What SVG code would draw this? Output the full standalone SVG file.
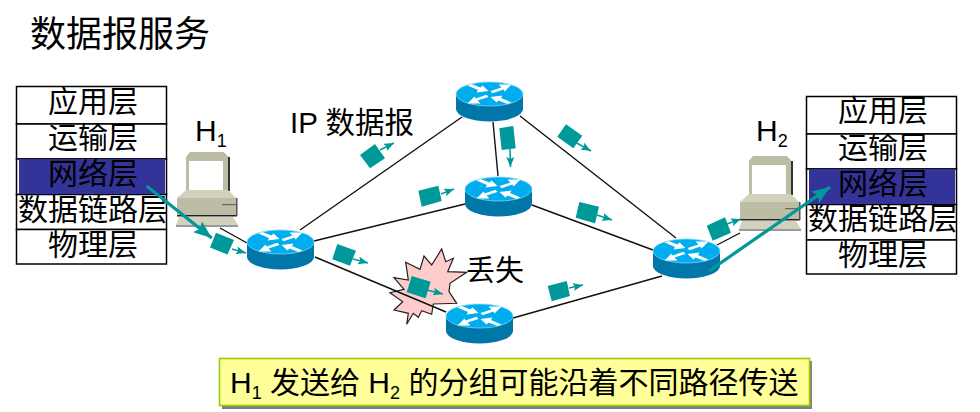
<svg xmlns="http://www.w3.org/2000/svg" xmlns:xlink="http://www.w3.org/1999/xlink" width="980" height="412" viewBox="0 0 980 412">
<style>
text{font-family:"Liberation Sans","Noto Sans CJK SC",sans-serif;font-size:30px;fill:#000}
.c{text-anchor:middle}
.sub{font-size:18px}
.cell{fill:#fff;stroke:#000;stroke-width:1.500}
.hl{fill:#333399}
.link{stroke:#111;stroke-width:1.400;fill:none}
.pk{fill:#009999}
.pa{stroke:#009999;stroke-width:1.500;fill:none;marker-end:url(#sm)}
.big{stroke:#009999;stroke-width:3.200;fill:none;marker-end:url(#bg)}
.rs{fill:#0077A8}
.rt{fill:#00AEEF;stroke:#7FD4F5;stroke-width:.8}
.ra{fill:#fff}
.pc1{fill:#BDBDA5}
.pc2{fill:#D2D2BC}
</style>
<defs>
<marker id="sm" markerUnits="userSpaceOnUse" markerWidth="12" markerHeight="8" refX="10" refY="4" orient="auto"><path d="M0 0L10 4L0 8L2 4Z" fill="#009999"/></marker>
<marker id="bg" markerUnits="userSpaceOnUse" markerWidth="20" markerHeight="14" refX="18" refY="7" orient="auto"><path d="M0 0L18 7L0 14L3 7Z" fill="#009999"/></marker>
<g id="rt">
<path class="rs" d="M-33.500 0V15A33.500 12.500 0 0 0 33.500 15V0Z"/>
<ellipse class="rt" cx="0" cy="0" rx="33.500" ry="12"/>
<path class="ra" d="M-22-8.500L-18-10L-9-6.500L-7-8.500L-1-3L-13-1.500L-11.500-4ZM1-3L12-6.500L9-9.500L22-9.500L15-2.500L14-4.500L3-.8ZM-1 3L-12 6.500L-9 9.500L-22 9.500L-15 2.500L-14 4.500L-3 .8ZM22 8.500L18 10L9 6.500L7 8.500L1 3L13 1.500L11.500 4Z"/>
</g>
<g id="pc">
<path d="M5 0H38L43 5V39L45 39V5H43Z" fill="#333"/>
<path class="pc1" d="M5 0H38L43 5V39H1V5Z"/>
<rect x="4" y="9" width="34" height="29" fill="#fff"/>
<path class="pc2" d="M1 38H43L51 46H-8Z"/>
<path class="pc1" d="M-8 46H51V63H-8Z"/>
<rect x="-8" y="63" width="60" height="1.500" fill="#222"/>
<rect x="51" y="46" width="1.500" height="18" fill="#555"/>
<rect x="37" y="52" width="14" height="1.200" fill="#666"/>
<path class="pc2" d="M-6 65H48L53 73H-9Z"/>
<rect x="-9" y="73" width="62" height="2" fill="#999"/>
</g>
</defs>
<g id="title"><text x="30" y="47" style="font-size:36px">数据报服务</text></g>
<g id="loss">
<polygon points="441.700,249 445.700,261.700 453.300,258.300 447.700,271.700 466.700,272.300 450,283.300 449,291.700 456.700,303.300 433.300,304 431.700,314.300 421.700,310.700 418.300,317.300 413.300,313.300 406.700,324.300 408.300,313.300 394,310 402.700,301.700 390,292.700 404,289.300 394,277.700 408.300,280 405.700,262.300 420,269.300 424,256 431.700,265" fill="#FFCCCC" stroke="#222" stroke-width="1.200"/>
<text x="466" y="281" style="font-size:29px">丢失</text>
</g>
<g id="connectors">
<path class="link" d="M300 230L462 117M314 241L465 204M315 257L446 312M493 122L498 176M520 116L676 238M532 205L653 250M513 318L662 276M717 245L740 233M220 228L247 243"/>
</g>
<g id="h1"><use xlink:href="#pc" href="#pc" x="185" y="152"/><text x="195" y="141">H<tspan class="sub" dy="6">1</tspan></text></g>
<g id="h2"><use xlink:href="#pc" href="#pc" x="748" y="156"/><text x="756" y="141">H<tspan class="sub" dy="6">2</tspan></text></g>
<g id="r1"><use xlink:href="#rt" href="#rt" x="280.500" y="242"/></g>
<g id="r2"><use xlink:href="#rt" href="#rt" x="489.500" y="94"/></g>
<g id="r3"><use xlink:href="#rt" href="#rt" x="498.500" y="189"/></g>
<g id="r4"><use xlink:href="#rt" href="#rt" x="479.500" y="316"/></g>
<g id="r5"><use xlink:href="#rt" href="#rt" x="686.500" y="251"/></g>
<g id="stack1">
<rect class="cell" x="16.500" y="86.500" width="150" height="37.500"/>
<rect class="cell" x="16.500" y="124" width="150" height="35"/>
<rect class="cell" x="16.500" y="159" width="150" height="35.500"/>
<rect class="cell" x="16.500" y="194.500" width="150" height="35"/>
<rect class="cell" x="16.500" y="229.500" width="150" height="34.500"/>
<rect class="hl" x="19" y="159" width="146" height="35"/>
<text class="c" x="93" y="112">应用层</text>
<text class="c" x="93" y="148">运输层</text>
<text class="c" x="93" y="184">网络层</text>
<text class="c" x="93" y="220">数据链路层</text>
<text class="c" x="93" y="255">物理层</text>
</g>
<g id="stack2">
<rect class="cell" x="806.500" y="96.500" width="150" height="37.500"/>
<rect class="cell" x="806.500" y="134" width="150" height="35"/>
<rect class="cell" x="806.500" y="169" width="150" height="35.500"/>
<rect class="cell" x="806.500" y="204.500" width="150" height="35.500"/>
<rect class="cell" x="806.500" y="240" width="150" height="34"/>
<rect class="hl" x="809" y="169" width="146" height="35"/>
<text class="c" x="883" y="121">应用层</text>
<text class="c" x="883" y="158">运输层</text>
<text class="c" x="883" y="194">网络层</text>
<text class="c" x="883" y="229">数据链路层</text>
<text class="c" x="883" y="265">物理层</text>
</g>
<g id="ip-label"><text x="290" y="133" style="font-size:29.500px">IP 数据报</text></g>
<g id="packets">
<polygon class="pk" points="216,232.700 234,240 227.500,254.500 210,247.500"/><path class="pa" d="M232 249L246 253"/>
<polygon class="pk" points="360,155 375,144 385,158.300 370,168.300"/><path class="pa" d="M380 150L394 143"/>
<polygon class="pk" points="418.300,190.700 438.300,185.700 441.700,201 421.700,206.700"/><path class="pa" d="M441 194L454 189"/>
<polygon class="pk" points="499.300,128.300 513.300,126 515.700,148.300 501.700,150"/><path class="pa" d="M510 149L510.500 167"/>
<polygon class="pk" points="566,124.300 582.300,135.700 573.300,148.300 557.300,136.700"/><path class="pa" d="M575 142L591 151"/>
<polygon class="pk" points="579.300,202 599,206.700 595,223.300 575.700,217.700"/><path class="pa" d="M597 215L612 220"/>
<polygon class="pk" points="337.300,244 356,250.700 350,265.700 332.300,259.300"/><path class="pa" d="M353 259L368 263"/>
<polygon class="pk" points="411.700,276 430.700,281.700 425.700,298.300 406.700,292.300"/><path class="pa" d="M427 290L443 294"/>
<polygon class="pk" points="547.700,286 566.700,281 570,296 551.700,301.300"/><path class="pa" d="M569 288L583 285"/>
<polygon class="pk" points="706.700,225.700 725,217.300 731,232.700 712.700,240.700"/><path class="pa" d="M727 224L741 219"/>
</g>
<g id="flows">
<path class="big" d="M146.700 186L211.700 238"/>
<path class="big" d="M709 271L830 187"/>
</g>
<g id="note">
<rect x="222" y="361" width="590" height="48" fill="#808080"/>
<rect x="219.500" y="358.500" width="590" height="47" fill="#FFFF99" stroke="#99CC00" stroke-width="1.600"/>
<text x="230" y="393">H<tspan class="sub" dy="6">1</tspan><tspan dy="-6"> 发送给 H</tspan><tspan class="sub" dy="6">2</tspan><tspan dy="-6"> 的分组可能沿着不同路径传送</tspan></text>
</g>
</svg>
